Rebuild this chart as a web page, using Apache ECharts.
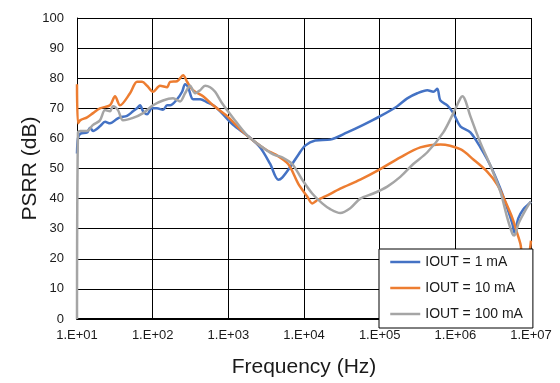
<!DOCTYPE html>
<html>
<head>
<meta charset="utf-8">
<script src="https://cdn.jsdelivr.net/npm/echarts@6/dist/echarts.min.js"></script>
<style>
  html, body { margin: 0; padding: 0; background: #fff; }
  #psrrChart { width: 560px; height: 383px; }
</style>
</head>
<body>
<div id="psrrChart"></div>
<script>
// series names and colours
const seriesNames = ['IOUT = 1 mA', 'IOUT = 10 mA', 'IOUT = 100 mA'];
const seriesColors = ['#4472C4', '#ED7D31', '#A5A5A5'];

// IOUT = 1 mA
const freq1mA = [10, 10.3, 11, 13.6, 14.9, 16.3, 20.1, 23.5, 27.3, 33.8, 37, 45.8, 55, 62.2, 68.1, 74.7, 84.3, 98, 114, 137, 155, 170, 210, 245, 268, 294, 342, 424, 525, 630, 780, 1157, 1774, 2634, 3574, 4560, 5150, 6570, 8380, 10370, 14070, 22220, 37270, 60680, 101800, 171000, 231600, 314000, 426400, 511800, 578000, 633800, 783300, 941400, 1165000, 1579000, 2142000, 2904000, 3937000, 4873000, 5677000, 6030000, 6810000, 7930000, 9530000, 10000000];
const psrr1mA = [55, 60, 61.5, 62, 63.5, 62.5, 64, 65.5, 65, 66.5, 67, 67.5, 69, 70, 71, 69, 68, 70, 70, 69.5, 71, 71, 73, 75.5, 78, 77, 73, 73, 72, 71, 69, 64.5, 61, 57, 51.5, 46.3, 47, 50.5, 54.5, 57.6, 59.3, 59.6, 62, 64.5, 67.4, 70.7, 73.3, 75, 76, 75.5, 76.5, 72.6, 71, 68.4, 64, 62, 57, 51, 43.3, 36.8, 31.6, 28.7, 33.5, 36.5, 38.4, 39];

// IOUT = 10 mA
const freq10mA = [10, 10.3, 11, 13.6, 16.3, 20.1, 27.3, 31.8, 37, 50.2, 62.2, 72.4, 84.3, 101, 125, 155, 170, 210, 253, 285, 342, 464, 630, 965, 1431, 2128, 3262, 4160, 6180, 8380, 11020, 12830, 15420, 19070, 30130, 55350, 101800, 187200, 344400, 633800, 1165000, 1730000, 2651000, 3594000, 4585000, 5677000, 6607000, 7244000, 7930000, 8950000, 10000000];
const psrr10mA = [78, 65, 66, 67, 68.4, 70, 71, 74, 71, 75, 78.8, 78.8, 77.5, 75.5, 77.5, 77, 78.8, 79, 81, 78.8, 76, 74, 71, 67.4, 63, 59.3, 56, 54.7, 51.5, 45, 40.7, 38.4, 39.7, 40.7, 43.3, 46.3, 49.8, 53.7, 57, 58, 56.4, 53, 48.9, 44.6, 39, 33.5, 28.3, 25, 20, 20, 26];

// IOUT = 100 mA
const freq100mA = [10, 10.3, 11, 13.6, 16.3, 20.1, 23.5, 27.3, 29.9, 34.8, 40.6, 55, 74.7, 101, 137, 186, 230, 268, 312, 364, 424, 493, 574, 669, 828, 1157, 1774, 2634, 3917, 5150, 6980, 9460, 12830, 17410, 22220, 30130, 40830, 55350, 82270, 126100, 187200, 278100, 426400, 693600, 941400, 1165000, 1239000, 1356000, 1579000, 2142000, 2904000, 3937000, 4873000, 5677000, 6030000, 6810000, 7930000, 9530000, 10000000];
const psrr100mA = [0, 62, 62.5, 62.5, 64.5, 66, 69.4, 69, 70.7, 69.4, 66, 66.8, 68.4, 71, 72.6, 73.3, 72.3, 75, 77.5, 75, 76, 77.5, 77, 75.5, 71.7, 66.8, 61, 57.6, 54.7, 53.7, 51.5, 46.3, 41.7, 38.4, 36.5, 35.2, 36.8, 40, 41.7, 44, 47.2, 51.5, 55.4, 62, 68.4, 73.3, 74, 72.6, 67.4, 58.6, 51, 42.3, 33.5, 28.3, 27.7, 31.6, 34.9, 38.4, 39];

// axis ranges
const xMin = 10, xMax = 1e7;
const yMin = 0, yMax = 100, yStep = 10;

const freqs = [freq1mA, freq10mA, freq100mA];
const values = [psrr1mA, psrr10mA, psrr100mA];

const chart = echarts.init(document.getElementById('psrrChart'));
const font = "'Liberation Sans', Arial, sans-serif";

const option = {
  animation: false,
  textStyle: { fontFamily: font },
  grid: { left: 77, right: 29, top: 18, bottom: 58 },
  legend: {
    data: seriesNames,
    orient: 'vertical',
    left: 379,
    top: 249,
    itemWidth: 30,
    itemHeight: 14,
    itemGap: 12,
    padding: [6, 10, 7, 10],
    backgroundColor: '#fff',
    borderColor: '#000',
    borderWidth: 1,
    borderRadius: 0,
    selectedMode: false,
    // hide the symbol in the legend icon, keep only the line
    itemStyle: { opacity: 0 },
    lineStyle: { width: 2.5 },
    textStyle: { fontSize: 14, color: '#1a1a1a', fontFamily: font }
  },
  xAxis: {
    type: 'log',
    logBase: 10,
    min: xMin,
    max: xMax,
    name: 'Frequency (Hz)',
    nameLocation: 'middle',
    nameGap: 38,
    nameMoveOverlap: false,
    nameTextStyle: { fontSize: 21, color: '#1a1a1a', fontFamily: font },
    axisLine: { lineStyle: { color: '#000', width: 2 } },
    axisTick: { show: false },
    axisLabel: {
      fontSize: 13,
      color: '#1a1a1a',
      margin: 10,
      formatter: function (v) {
        return '1.E+' + String(Math.round(Math.log10(v))).padStart(2, '0');
      }
    },
    splitLine: { show: true, lineStyle: { color: '#000', width: 1 } }
  },
  yAxis: {
    type: 'value',
    min: yMin,
    max: yMax,
    interval: yStep,
    name: 'PSRR (dB)',
    nameLocation: 'middle',
    nameGap: 36,
    nameMoveOverlap: false,
    nameRotate: 90,
    nameTextStyle: { fontSize: 21, color: '#1a1a1a', fontFamily: font },
    axisLine: { show: true, lineStyle: { color: '#000', width: 1 } },
    axisTick: { show: false },
    axisLabel: { fontSize: 13, color: '#1a1a1a', margin: 13 },
    splitLine: { show: true, lineStyle: { color: '#000', width: 1 } }
  },
  series: seriesNames.map(function (name, i) {
    return {
      name: name,
      type: 'line',
      symbol: 'none',
      smooth: 0.3,
      lineStyle: { color: seriesColors[i], width: 2.5 },
      itemStyle: { color: seriesColors[i] },
      data: freqs[i].map(function (f, j) { return [f, values[i][j]]; })
    };
  })
};

chart.setOption(option);
window.addEventListener('resize', function () {
  chart.resize();
});
</script>
</body>
</html>
